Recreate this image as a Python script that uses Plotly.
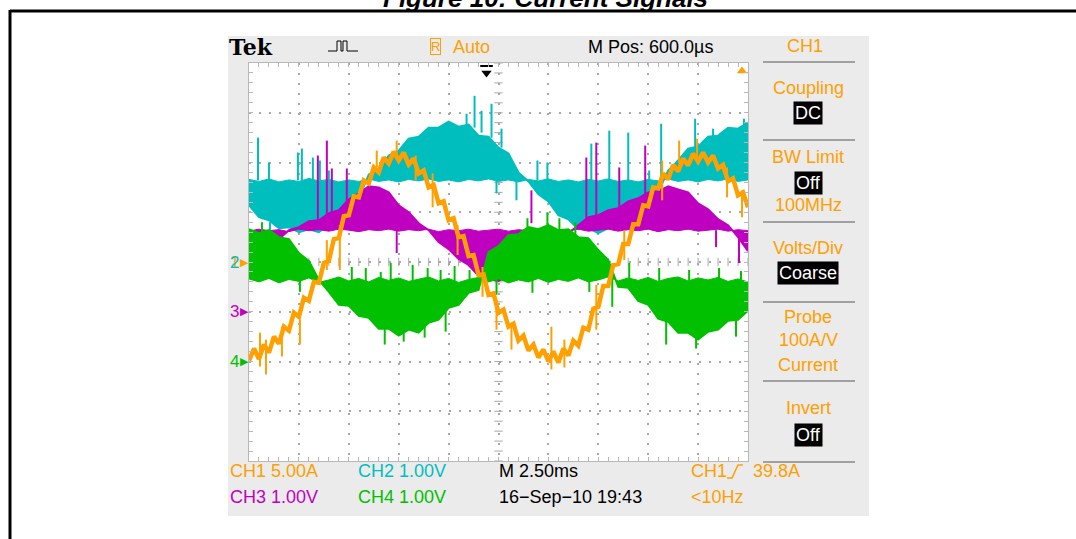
import plotly.graph_objects as go

W, H = 1076, 539

# ---------------- data ----------------
# time axis: 2.5 ms/div, 10 div; vertical unit: screen divisions
t_band_ms = [i * 0.5 for i in range(51)]     # sample times for PWM bands
t_ch1_ms = [i * 0.25 for i in range(101)]    # sample times for CH1

ch1_div = [-1.98, -1.74, -1.95, -1.66, -1.82, -1.50, -1.64, -1.30, -1.38, -1.02,
           -1.10, -0.72, -0.78, -0.40, -0.42, -0.02, 0.02, 0.46, 0.48, 0.92,
           0.94, 1.32, 1.30, 1.64, 1.58, 1.90, 1.80, 2.10, 1.98, 2.22,
           2.04, 2.20, 1.96, 2.08, 1.78, 1.84, 1.50, 1.55, 1.18, 1.22,
           0.84, 0.88, 0.50, 0.52, 0.12, 0.14, -0.26, -0.25, -0.66, -0.63,
           -1.02, -0.96, -1.30, -1.24, -1.58, -1.48, -1.78, -1.66, -1.92, -1.76,
           -2.00, -1.80, -2.02, -1.74, -1.88, -1.58, -1.68, -1.32, -1.36, -0.94,
           -0.90, -0.48, -0.48, -0.06, -0.04, 0.36, 0.36, 0.76, 0.76, 1.14,
           1.12, 1.50, 1.48, 1.78, 1.66, 1.95, 1.82, 2.08, 1.94, 2.18,
           2.02, 2.20, 2.00, 2.14, 1.88, 1.95, 1.62, 1.68, 1.34, 1.40, 1.10]
ch1_spike_ms = [0.55, 0.85, 1.65, 2.55, 3.9, 4.55, 6.4, 7.4, 8.35, 9.2, 10.45, 11.7,
                12.4, 13.15, 15.15, 15.8, 17.4, 18.8, 20.7, 21.55, 22.45, 23.95, 24.7]
ch1_spike_lo = [-2.10, -2.26, -1.90, -1.66, -0.16, -0.16, 1.90, 2.10, 1.64, 1.10, 0.14, -0.70,
                -1.36, -1.76, -2.16, -2.12, -1.36, 0.04, 1.24, 1.98, 2.10, 1.30, 0.90]
ch1_spike_hi = [-1.42, -1.56, -1.30, -1.16, 0.44, 0.74, 2.24, 2.44, 2.14, 1.78, 0.74, -0.10,
                -0.76, -1.26, -1.30, -1.56, -0.46, 0.64, 2.04, 2.44, 2.48, 1.90, 1.44]

ch2_base = [1.66, 1.62, 1.67, 1.61, 1.65, 1.62, 1.68, 1.63, 1.66, 1.61, 1.65, 1.62, 1.67,
            1.62, 1.65, 1.61, 1.66, 1.63, 1.67, 1.62, 1.65, 1.61, 1.66, 1.63, 1.67, 1.62,
            1.65, 1.61, 1.66, 1.63, 1.67, 1.62, 1.65, 1.61, 1.66, 1.63, 1.67, 1.62, 1.65,
            1.61, 1.66, 1.63, 1.67, 1.62, 1.65, 1.61, 1.66, 1.63, 1.67, 1.62, 1.65]
ch2_env = [1.14, 0.90, 0.84, 0.68, 0.70, 0.60, 0.66, 0.60, 0.76, 0.82, 1.08, 1.28, 1.76,
           1.86, 2.14, 2.24, 2.48, 2.52, 2.70, 2.70, 2.82, 2.72, 2.76, 2.54, 2.52, 2.30,
           2.18, 1.80, 1.62, 1.36, 1.22, 0.94, 0.86, 0.66, 0.68, 0.58, 0.68, 0.68, 0.88,
           0.96, 1.22, 1.40, 1.84, 2.04, 2.28, 2.32, 2.52, 2.54, 2.70, 2.68, 2.80]
ch2_spike_ms = [0.45, 1.0, 2.45, 2.65, 3.2, 3.55, 4.0, 10.9, 11.3, 11.65, 12.15, 12.65,
                14.45, 14.95, 17.15, 18.05, 19.0, 20.05, 20.65, 22.35, 23.25, 24.8,
                1.05, 12.4, 13.4]
ch2_spike_lo = [1.64, 1.64, 1.64, 1.64, 1.64, 1.64, 1.64, 2.72, 2.70, 2.60, 2.50, 2.30,
                1.64, 1.64, 1.64, 1.64, 1.64, 1.64, 1.64, 2.30, 2.50, 2.70,
                0.50, 1.38, 1.24]
ch2_spike_hi = [2.50, 2.00, 2.20, 2.28, 2.10, 2.04, 1.84, 2.98, 3.34, 3.04, 3.18, 2.68,
                2.04, 2.00, 2.38, 2.64, 2.60, 1.84, 2.78, 2.88, 2.68, 2.88,
                0.80, 1.64, 1.64]

ch3_base = [0.62, 0.66, 0.63, 0.65, 0.61, 0.66, 0.63, 0.65, 0.62, 0.66, 0.64, 0.61, 0.65,
            0.63, 0.66, 0.62, 0.65, 0.63, 0.66, 0.61, 0.65, 0.63, 0.66, 0.62, 0.64, 0.66,
            0.62, 0.65, 0.63, 0.66, 0.61, 0.65, 0.63, 0.66, 0.62, 0.64, 0.66, 0.62, 0.65,
            0.63, 0.66, 0.61, 0.65, 0.63, 0.66, 0.62, 0.64, 0.66, 0.62, 0.65, 0.63]
ch3_env = [0.46, 0.38, 0.42, 0.46, 0.64, 0.70, 0.82, 0.84, 0.98, 1.04, 1.26, 1.38, 1.52,
           1.50, 1.40, 1.14, 1.00, 0.78, 0.64, 0.40, 0.26, 0.06, -0.06, -0.28, -0.34, -0.38,
           -0.28, -0.22, -0.04, 0.06, 0.26, 0.38, 0.58, 0.74, 0.90, 0.94, 1.04, 1.08, 1.22,
           1.28, 1.40, 1.42, 1.52, 1.46, 1.40, 1.18, 1.06, 0.86, 0.74, 0.50, 0.22]
ch3_spike_ms = [3.45, 3.9, 4.15, 4.9, 7.4, 14.15, 16.9, 17.4, 18.55, 19.85, 23.4, 24.55]
ch3_spike_lo = [0.80, 0.90, 1.00, 1.20, 0.18, 0.78, 0.76, 0.90, 1.10, 1.30, 0.30, -0.02]
ch3_spike_hi = [2.14, 2.44, 1.88, 1.88, 0.64, 1.44, 2.10, 2.40, 1.90, 2.34, 0.64, 0.60]

ch4_base = [-0.34, -0.40, -0.33, -0.42, -0.35, -0.39, -0.32, -0.41, -0.36, -0.30, -0.38,
            -0.33, -0.40, -0.31, -0.37, -0.32, -0.39, -0.34, -0.30, -0.38, -0.33, -0.41,
            -0.35, -0.31, -0.40, -0.34, -0.42, -0.36, -0.40, -0.33, -0.41, -0.35, -0.39,
            -0.32, -0.40, -0.36, -0.30, -0.38, -0.32, -0.37, -0.31, -0.39, -0.33, -0.30,
            -0.38, -0.32, -0.36, -0.31, -0.39, -0.34, -0.40]
ch4_env = [0.66, 0.58, 0.64, 0.50, 0.46, 0.18, 0.02, -0.36, -0.60, -0.86, -0.88, -1.08,
           -1.12, -1.34, -1.34, -1.48, -1.36, -1.42, -1.22, -1.16, -0.92, -0.86, -0.62,
           -0.56, 0.20, 0.32, 0.54, 0.56, 0.70, 0.66, 0.74, 0.64, 0.66, 0.50, 0.48, 0.24,
           0.04, -0.50, -0.52, -0.78, -0.86, -1.14, -1.20, -1.42, -1.42, -1.56, -1.40,
           -1.36, -1.18, -1.16, -0.98]
ch4_spike_ms = [5.15, 5.85, 6.6, 7.1, 8.2, 8.95, 9.6, 10.3, 11.05, 6.8, 7.75, 8.8, 9.85,
                0.65, 2.55, 13.95, 14.95, 15.55, 16.35, 12.4, 14.2, 17.05, 18.2,
                19.05, 20.55, 22.05, 23.55, 24.65, 20.9, 22.4, 24.4]
ch4_spike_lo = [-0.50, -0.50, -0.50, -0.50, -0.50, -0.50, -0.50, -0.50, -0.50, -1.66, -1.60,
                -1.52, -1.40, 0.50, -0.60, 0.50, 0.50, 0.50, 0.50, -0.66, -0.62, -0.60, -0.90,
                -0.50, -0.50, -0.50, -0.50, -0.50, -1.66, -1.74, -1.50]
ch4_spike_hi = [-0.10, -0.12, -0.20, -0.02, -0.06, -0.12, -0.16, -0.08, -0.16, -1.20, -1.30,
                -1.20, -1.00, 0.80, -0.30, 0.88, 1.00, 0.88, 0.80, -0.20, -0.20, -0.20, -0.20,
                -0.02, -0.12, -0.16, -0.12, -0.18, -1.20, -1.40, -1.10]

trigger_pos_ms = 11.9
trigger_level_ms = 24.7

# ---------------- styling ----------------
ORANGE = "#ffa000"
CYAN = "#00bebe"
MAGENTA = "#c000c0"
GREEN = "#00c000"
GRID = "#a8a8a8"
FRAME = "#b8b8b8"
PANEL = "#ebebeb"
FONT = "Liberation Sans, Arial, sans-serif"

def px(x):
    return x / W

def py(y):
    return 1 - y / H

def segs(xs, lo, hi):
    X, Y = [], []
    for a, b, c in zip(xs, lo, hi):
        X += [a, a, None]
        Y += [b, c, None]
    return X, Y

fig = go.Figure()

# graticule centre-line ticks
fig.add_trace(go.Scatter(x=[12.5] * 41, y=[-4 + 0.2 * i for i in range(41)], mode="markers",
                         marker=dict(symbol="line-ew", size=6, line=dict(color=GRID, width=1)),
                         hoverinfo="skip", showlegend=False))
fig.add_trace(go.Scatter(x=[0.5 * i for i in range(51)], y=[0] * 51, mode="markers",
                         marker=dict(symbol="line-ns", size=6, line=dict(color=GRID, width=1)),
                         hoverinfo="skip", showlegend=False))

def band(base, env, color, sx, slo, shi):
    fig.add_trace(go.Scatter(x=t_band_ms, y=base, mode="lines", line=dict(color=color, width=1),
                             hoverinfo="skip", showlegend=False))
    fig.add_trace(go.Scatter(x=t_band_ms, y=env, mode="lines", line=dict(color=color, width=2),
                             fill="tonexty", fillcolor=color, hoverinfo="skip", showlegend=False))
    X, Y = segs(sx, slo, shi)
    fig.add_trace(go.Scatter(x=X, y=Y, mode="lines", line=dict(color=color, width=2),
                             hoverinfo="skip", showlegend=False))

band(ch2_base, ch2_env, CYAN, ch2_spike_ms, ch2_spike_lo, ch2_spike_hi)
band(ch3_base, ch3_env, MAGENTA, ch3_spike_ms, ch3_spike_lo, ch3_spike_hi)
band(ch4_base, ch4_env, GREEN, ch4_spike_ms, ch4_spike_lo, ch4_spike_hi)

fig.add_trace(go.Scatter(x=t_ch1_ms, y=ch1_div, mode="lines", line=dict(color=ORANGE, width=4.5),
                         hoverinfo="skip", showlegend=False))
X, Y = segs(ch1_spike_ms, ch1_spike_lo, ch1_spike_hi)
fig.add_trace(go.Scatter(x=X, y=Y, mode="lines", line=dict(color=ORANGE, width=2),
                         hoverinfo="skip", showlegend=False))

# trigger markers
fig.add_trace(go.Scatter(x=[trigger_pos_ms], y=[3.8], mode="markers",
                         marker=dict(symbol="triangle-down", size=9, color="black"),
                         hoverinfo="skip", showlegend=False))
fig.add_trace(go.Scatter(x=[trigger_pos_ms], y=[3.94], mode="markers",
                         marker=dict(symbol="line-ew", size=9, line=dict(color="black", width=2)),
                         hoverinfo="skip", showlegend=False))
fig.add_trace(go.Scatter(x=[trigger_level_ms], y=[3.84], mode="markers",
                         marker=dict(symbol="triangle-up", size=9, color=ORANGE),
                         hoverinfo="skip", showlegend=False))

axis_common = dict(showgrid=True, gridcolor=GRID, gridwidth=2, griddash="2px,8px",
                   zeroline=False, showline=True, linecolor=FRAME, linewidth=1, mirror="allticks",
                   ticks="inside", ticklen=4, tickcolor=FRAME, showticklabels=False, fixedrange=True)
fig.update_xaxes(domain=[px(249), px(748)], range=[0, 25], dtick=2.5, tick0=0,
                 minor=dict(dtick=0.5, ticks="inside", ticklen=4, tickcolor=FRAME, showgrid=False),
                 **axis_common)
fig.update_yaxes(domain=[py(461), py(63)], range=[-4, 4], dtick=1, tick0=0,
                 minor=dict(dtick=0.2, ticks="inside", ticklen=4, tickcolor=FRAME, showgrid=False),
                 **axis_common)

shapes = [
    dict(type="rect", xref="paper", yref="paper", x0=px(228), x1=px(869), y0=py(516), y1=py(36),
         fillcolor=PANEL, line=dict(width=0), layer="below"),
    dict(type="rect", xref="paper", yref="paper", x0=px(249), x1=px(748), y0=py(461), y1=py(63),
         fillcolor="white", line=dict(width=0), layer="below"),
    dict(type="line", xref="paper", yref="paper", x0=px(10), x1=px(1080), y0=py(11), y1=py(11),
         line=dict(color="black", width=3)),
    dict(type="line", xref="paper", yref="paper", x0=px(10), x1=px(10), y0=py(10), y1=py(545),
         line=dict(color="black", width=3)),
]
for yy in [62, 140, 222, 302, 381, 462]:
    shapes.append(dict(type="line", xref="paper", yref="paper", x0=px(763), x1=px(855), y0=py(yy), y1=py(yy),
                       line=dict(color="#a0a0a0", width=2)))
# pulse icon
pts = [(328, 51), (337, 51), (337, 41), (341, 41), (341, 51), (343, 51), (343, 41), (347, 41), (347, 51), (358, 51)]
path = "M " + " L ".join(f"{px(a):.5f},{py(b):.5f}" for a, b in pts)
shapes.append(dict(type="path", xref="paper", yref="paper", path=path, line=dict(color="black", width=1)))
# trigger slope symbol
pts = [(727, 478), (732, 478), (738, 465), (743, 465)]
path = "M " + " L ".join(f"{px(a):.5f},{py(b):.5f}" for a, b in pts)
shapes.append(dict(type="path", xref="paper", yref="paper", path=path, line=dict(color=ORANGE, width=1.5)))

ann = []
def txt(s, x, y, color, size=18, anchor="left", family=FONT, **kw):
    ann.append(dict(text=s, x=px(x), y=py(y), xref="paper", yref="paper", xanchor=anchor, yanchor="middle",
                    showarrow=False, font=dict(family=family, size=size, color=color), **kw))

# title (cut by the top edge)
txt("<b><i>Figure 10: Current Signals</i></b>", 545, -2, "black", size=26, anchor="center")

# header
txt("<b>Tek</b>", 227, 47, "black", size=22, family="DejaVu Serif, Liberation Serif, serif")
txt("R", 436, 47, ORANGE, size=13, anchor="center", bordercolor=ORANGE, borderwidth=1, borderpad=0)
txt("Auto", 451, 47, ORANGE)
txt("M Pos: 600.0µs", 586, 47, "black")
txt("CH1", 805, 46, ORANGE, anchor="center")

# side menu
cx = 808
txt("Coupling", cx, 88, ORANGE, anchor="center")
txt("DC", cx, 113, "white", anchor="center", bgcolor="black", borderpad=1)
txt("BW Limit", cx, 157, ORANGE, anchor="center")
txt("Off", cx, 183, "white", anchor="center", bgcolor="black", borderpad=1)
txt("100MHz", cx, 205, ORANGE, anchor="center")
txt("Volts/Div", cx, 248, ORANGE, anchor="center")
txt("Coarse", cx, 273, "white", anchor="center", bgcolor="black", borderpad=1)
txt("Probe", cx, 317, ORANGE, anchor="center")
txt("100A/V", cx, 340, ORANGE, anchor="center")
txt("Current", cx, 365, ORANGE, anchor="center")
txt("Invert", cx, 408, ORANGE, anchor="center")
txt("Off", cx, 435, "white", anchor="center", bgcolor="black", borderpad=1)

# ground labels with arrows
txt("1", 228, 262, ORANGE, size=17)
txt("2", 228, 262, CYAN, size=17)
txt("3", 228, 311, MAGENTA, size=17)
txt("4", 228, 361, GREEN, size=17)
txt("\u25b6", 238, 262, ORANGE, size=11)
txt("\u25b6", 238, 311, MAGENTA, size=11)
txt("\u25b6", 238, 361, GREEN, size=11)

# status rows
txt("CH1 5.00A", 228, 471, ORANGE)
txt("CH2 1.00V", 356, 471, CYAN)
txt("M 2.50ms", 497, 471, "black")
txt("CH1", 689, 471, ORANGE)
txt("39.8A", 751, 471, ORANGE)
txt("CH3 1.00V", 228, 497, MAGENTA)
txt("CH4 1.00V", 356, 497, GREEN)
txt("16\u2212Sep\u221210 19:43", 497, 497, "black")
txt("&lt;10Hz", 689, 497, ORANGE)

fig.update_layout(width=W, height=H, margin=dict(l=0, r=0, t=0, b=0),
                  paper_bgcolor="white", plot_bgcolor="white",
                  shapes=shapes, annotations=ann, showlegend=False)

fig.write_html("out.html", config={"displayModeBar": False, "staticPlot": True},
               post_script="document.body.style.margin='0px';")
